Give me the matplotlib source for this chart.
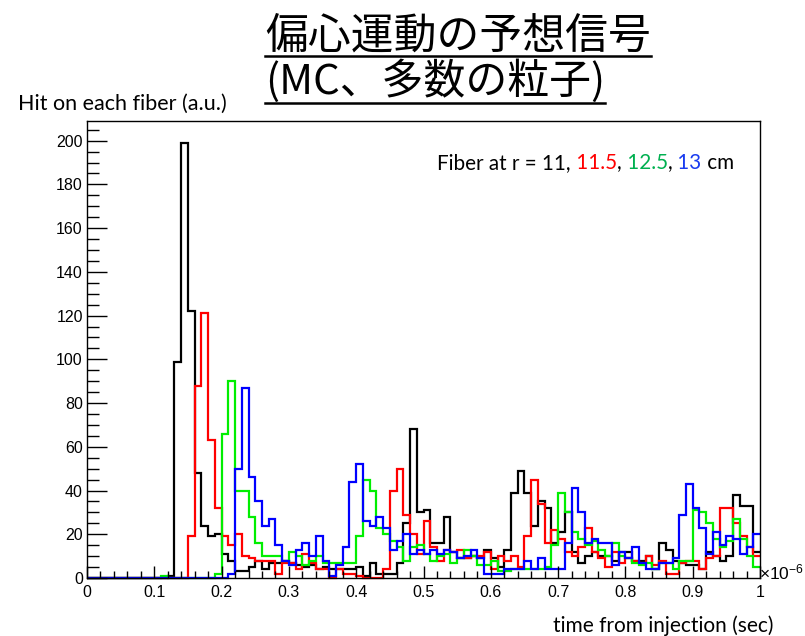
import numpy as np
import matplotlib
matplotlib.use("Agg")
import matplotlib.pyplot as plt
from matplotlib.ticker import MultipleLocator, FuncFormatter
from matplotlib.lines import Line2D

# ---------------- data (hits per 0.01 us bin, 0 .. 1 us) ----------------
bin_edges_us = np.linspace(0.0, 1.0, 101)

hits_r11 = [0, 0, 0, 0, 0, 0, 0, 0, 0, 0,
            0, 0, 1, 99, 199, 122, 48, 24, 19, 20,
            11, 8, 3, 3, 5, 8, 4, 7, 7, 8,
            7, 6, 5, 6, 4, 5, 4, 4, 4, 4,
            5, 1, 7, 2, 2, 2, 7, 25, 68, 30,
            31, 16, 16, 28, 12, 9, 9, 10, 9, 13,
            9, 5, 13, 39, 49, 39, 24, 35, 32, 16,
            21, 30, 12, 7, 10, 12, 10, 10, 8, 12,
            12, 8, 8, 10, 4, 16, 13, 8, 7, 6,
            6, 4, 12, 10, 8, 10, 38, 33, 33, 12]

hits_r115 = [0, 0, 0, 0, 0, 0, 0, 0, 0, 0,
             0, 0, 0, 0, 0, 19, 88, 121, 63, 32,
             19, 15, 20, 10, 9, 8, 8, 8, 2, 7,
             7, 4, 11, 7, 4, 4, 0, 4, 2, 2,
             1, 0, 0, 0, 4, 40, 50, 29, 20, 11,
             26, 14, 8, 13, 12, 13, 9, 10, 10, 12,
             4, 10, 8, 10, 5, 19, 45, 34, 16, 22,
             18, 12, 10, 14, 23, 12, 9, 5, 12, 7,
             9, 8, 7, 10, 6, 8, 2, 2, 7, 8,
             8, 4, 9, 10, 32, 32, 25, 19, 14, 10]

hits_r125 = [0, 0, 0, 0, 0, 0, 0, 0, 0, 0,
             0, 1, 0, 0, 0, 0, 0, 0, 0, 2,
             66, 90, 40, 40, 28, 16, 10, 10, 10, 8,
             12, 10, 6, 8, 10, 7, 7, 7, 7, 7,
             19, 45, 40, 23, 20, 17, 14, 8, 14, 15,
             11, 8, 10, 11, 7, 9, 13, 10, 6, 6,
             8, 3, 3, 4, 4, 4, 4, 4, 5, 15,
             39, 30, 21, 18, 15, 17, 13, 10, 16, 10,
             9, 7, 6, 7, 4, 7, 7, 4, 8, 8,
             31, 30, 25, 18, 14, 17, 27, 18, 10, 5]

hits_r13 = [0, 0, 0, 0, 0, 0, 0, 0, 0, 0,
            0, 0, 0, 0, 0, 0, 0, 0, 0, 0,
            0, 2, 50, 87, 46, 35, 24, 27, 15, 8,
            6, 13, 16, 10, 19, 8, 1, 6, 14, 44,
            52, 26, 24, 28, 23, 13, 17, 20, 11, 13,
            11, 13, 11, 13, 12, 9, 10, 13, 9, 2,
            2, 2, 4, 4, 4, 8, 4, 9, 4, 4,
            4, 16, 41, 30, 16, 18, 16, 16, 6, 12,
            9, 14, 7, 4, 4, 7, 7, 9, 29, 43,
            32, 23, 11, 21, 15, 19, 18, 11, 14, 20]

series = [hits_r11, hits_r115, hits_r125, hits_r13]
line_colors = ["#000000", "#ff0000", "#00ee00", "#0000ff"]

legend_pieces = ["Fiber at r = 11,", " 11.5", ",", " 12.5", ",", " 13", " cm"]
legend_colors = ["#000000", "#ff0000", "#000000", "#00b050", "#000000", "#1a3cf0", "#000000"]

title_lines = ["偏心運動の予想信号", "(MC、多数の粒子)"]
ylabel_text = "Hit on each fiber (a.u.)"
xlabel_text = "time from injection (sec)"

# ---------------- figure ----------------
W, H = 805, 636
plt.rcParams['mathtext.fontset'] = 'custom'
plt.rcParams['mathtext.rm'] = 'Liberation Sans'
plt.rcParams['mathtext.it'] = 'Liberation Sans'
fig = plt.figure(figsize=(W / 100, H / 100), dpi=100)
fig.patch.set_facecolor("white")
renderer = fig.canvas.get_renderer()

ax = fig.add_axes([87 / W, 1 - 578 / H, (760 - 87) / W, (578 - 121) / H])
for vals, col in zip(series, line_colors):
    ax.stairs(vals, bin_edges_us, color=col, lw=1.6, baseline=None, clip_on=False)

ax.set_xlim(0, 1)
ax.set_ylim(0, 209)
for s in ax.spines.values():
    s.set_linewidth(1.0)
    s.set_color("black")
ax.xaxis.set_major_locator(MultipleLocator(0.1))
ax.xaxis.set_minor_locator(MultipleLocator(0.02))
ax.yaxis.set_major_locator(MultipleLocator(20))
ax.yaxis.set_minor_locator(MultipleLocator(5))
ax.xaxis.set_major_formatter(FuncFormatter(lambda v, p: f"{v:g}"))
ax.yaxis.set_major_formatter(FuncFormatter(lambda v, p: f"{v:g}"))
ax.tick_params(which='both', direction='in', top=False, right=False, colors="black")
ax.tick_params(axis='x', which='major', length=8.6, width=1, labelsize=11.5, pad=5)
ax.tick_params(axis='x', which='minor', length=4.8, width=1)
ax.tick_params(axis='y', which='major', length=14.5, width=1, labelsize=11.5, pad=3)
ax.tick_params(axis='y', which='minor', length=8.5, width=1)
for lab in ax.get_xticklabels() + ax.get_yticklabels():
    lab.set_fontfamily("Liberation Sans")

fig.text(759 / W, 1 - 579 / H, r"$\times10^{-6}$", fontsize=12.5, ha="left", va="baseline",
         family="Liberation Sans")


def fit_text(x_px, y_px, s, width_px, **kw):
    t = fig.text(x_px / W, 1 - y_px / H, s, **kw)
    bb = t.get_window_extent(renderer)
    t.set_fontsize(t.get_fontsize() * width_px / bb.width)
    return t


fit_text(18, 110, ylabel_text, 207, fontsize=13, family="Lato", va="baseline")
fit_text(553, 632, xlabel_text, 220, fontsize=13, family="Lato", va="baseline")

# multi-coloured legend text
full = "".join(legend_pieces)
probe = fig.text(0, 0, full, fontsize=13, family="Lato")
fs_leg = 13 * 295 / probe.get_window_extent(renderer).width
probe.remove()
xcur = 437
for piece, col in zip(legend_pieces, legend_colors):
    t = fig.text(xcur / W, 1 - 169 / H, piece, fontsize=fs_leg, family="Lato",
                 color=col, va="baseline")
    xcur = t.get_window_extent(renderer).x1

# title with underline
title_specs = [(title_lines[0], 49, 385, 56), (title_lines[1], 94, 340, 103)]
for txt, base_y, wpx, ul_y in title_specs:
    t = fit_text(265, base_y, txt, wpx, fontsize=30,
                 family=["Noto Sans CJK JP", "DejaVu Sans"], va="baseline")
    bb = t.get_window_extent(renderer)
    uy = 1 - ul_y / H
    fig.add_artist(Line2D([bb.x0 / W, bb.x1 / W], [uy, uy], color="black", lw=1.8,
                          transform=fig.transFigure))

fig.savefig("out.png", dpi=100, facecolor="white")
